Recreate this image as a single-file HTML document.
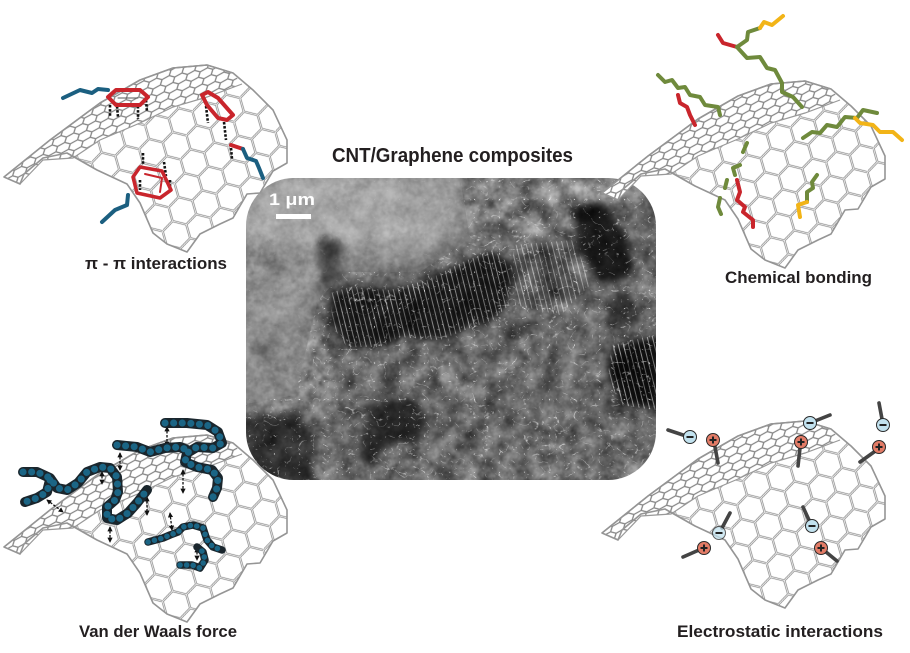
<!DOCTYPE html>
<html>
<head>
<meta charset="utf-8">
<style>
html,body{margin:0;padding:0;background:#fff;overflow:hidden;}
svg{display:block;}
text{font-family:"Liberation Sans",sans-serif;}
</style>
</head>
<body>
<svg width="910" height="653" viewBox="0 0 910 653" xmlns="http://www.w3.org/2000/svg">
<defs>
  <pattern id="hexMain" width="45" height="25.98" patternUnits="userSpaceOnUse" patternTransform="rotate(14) scale(0.95,0.95)">
    <path d="M0,12.99 L7.5,0 H22.5 L30,12.99 L22.5,25.98 H7.5 Z M30,12.99 H45" fill="none" stroke="#888" stroke-width="2.4"/>
    <path d="M0,12.99 L7.5,0 H22.5 L30,12.99 L22.5,25.98 H7.5 Z M30,12.99 H45" fill="none" stroke="#ffffff" stroke-width="0.8"/>
  </pattern>
  <pattern id="hexRidge" width="24.75" height="7.8" patternUnits="userSpaceOnUse" patternTransform="rotate(-29)">
    <path d="M0,3.9 L4.125,0 H12.375 L16.5,3.9 L12.375,7.8 H4.125 Z M16.5,3.9 H24.75" fill="none" stroke="#858585" stroke-width="1.3"/>
  </pattern>
  <pattern id="strands" width="5" height="12" patternUnits="userSpaceOnUse" patternTransform="rotate(-14)">
    <path d="M1.5,0 V12" stroke="#eeeeee" stroke-width="0.8"/>
  </pattern>

  <clipPath id="semclip"><rect x="246" y="178" width="410" height="302" rx="48" ry="48"/></clipPath>
  <clipPath id="bandclip">
    <polygon points="330,293 350,287 390,290 427,280 467,260 493,250 513,267 507,307 493,320 473,327 440,340 400,337 380,347 347,347 333,327"/>
    <polygon points="513,245 575,240 590,285 560,315 515,305"/>
    <polygon points="612,345 656,335 656,410 620,405 608,375"/>
  </clipPath>
  <clipPath id="veinclip">
    <polygon points="460,178 660,178 660,485 240,485 240,405 295,395 318,300 345,272 420,272 470,238"/>
  </clipPath>
  <clipPath id="lightclip">
    <polygon points="240,172 460,172 470,238 420,272 345,272 318,300 295,395 240,405"/>
  </clipPath>

  <filter id="b8" x="-30%" y="-30%" width="160%" height="160%" color-interpolation-filters="sRGB"><feGaussianBlur stdDeviation="8"/></filter>
  <filter id="b4" x="-30%" y="-30%" width="160%" height="160%" color-interpolation-filters="sRGB"><feGaussianBlur stdDeviation="4"/></filter>
  <filter id="mottle" x="246" y="178" width="410" height="302" filterUnits="userSpaceOnUse" color-interpolation-filters="sRGB">
    <feTurbulence type="fractalNoise" baseFrequency="0.05" numOctaves="4" seed="2"/>
    <feColorMatrix type="matrix" values="0.33 0.33 0.33 0 0  0.33 0.33 0.33 0 0  0.33 0.33 0.33 0 0  0 0 0 0 1"/>
    <feComponentTransfer>
      <feFuncR type="linear" slope="1.7" intercept="-0.35"/>
      <feFuncG type="linear" slope="1.7" intercept="-0.35"/>
      <feFuncB type="linear" slope="1.7" intercept="-0.35"/>
    </feComponentTransfer>
  </filter>
  <filter id="grain" x="246" y="178" width="410" height="302" filterUnits="userSpaceOnUse" color-interpolation-filters="sRGB">
    <feTurbulence type="fractalNoise" baseFrequency="0.18" numOctaves="2" seed="9"/>
    <feColorMatrix type="matrix" values="0.33 0.33 0.33 0 0  0.33 0.33 0.33 0 0  0.33 0.33 0.33 0 0  0 0 0 0 1"/>
  </filter>
  <filter id="veins" x="246" y="178" width="410" height="302" filterUnits="userSpaceOnUse">
    <feTurbulence type="turbulence" baseFrequency="0.04 0.055" numOctaves="3" seed="7"/>
    <feColorMatrix type="matrix" values="0 0 0 0 1  0 0 0 0 1  0 0 0 0 1  -9 0 0 0 0.7"/>
  </filter>
  <filter id="veins2" x="246" y="178" width="410" height="302" filterUnits="userSpaceOnUse">
    <feTurbulence type="turbulence" baseFrequency="0.07 0.08" numOctaves="2" seed="21"/>
    <feColorMatrix type="matrix" values="0 0 0 0 1  0 0 0 0 1  0 0 0 0 1  -10 0 0 0 0.6"/>
  </filter>

  <marker id="ah" viewBox="0 0 6 6" refX="5" refY="3" markerWidth="4" markerHeight="4" orient="auto-start-reverse">
    <path d="M0,0 L6,3 L0,6 Z" fill="#111"/>
  </marker>

  <g id="sheet">
    <polygon points="4,177 20,184 24,174 43,158 67,153 97,170 127,184 140,203 153,233 167,244 187,252 200,234 220,224 233,218 247,194 260,193 273,171 287,163 287,140 273,110 253,90 233,73 207,65 173,68 140,80 100,103 50,140" fill="url(#hexMain)"/>
    <polygon points="4,177 50,140 100,103 140,80 173,68 207,65 233,73 242,84 207,97 173,107 140,123 100,140 73,158 43,160 20,184" fill="#fff"/>
    <polygon points="4,177 50,140 100,103 140,80 173,68 207,65 233,73 242,84 207,97 173,107 140,123 100,140 73,158 43,160 20,184" fill="url(#hexRidge)"/>
    <polyline points="4,177 50,140 100,103 140,80 173,68 207,65 233,73" fill="none" stroke="#888" stroke-width="1.4"/>
    <polyline points="20,184 43,160 73,158 100,140 140,123 173,107 207,97 242,84" fill="none" stroke="#999" stroke-width="1.2"/>
    <polygon points="4,177 20,184 24,174 43,158 67,153 97,170 127,184 140,203 153,233 167,244 187,252 200,234 220,224 233,218 247,194 260,193 273,171 287,163 287,140 273,110 253,90 233,73 207,65 173,68 140,80 100,103 50,140" fill="none" stroke="#959595" stroke-width="1.6" stroke-linejoin="round"/>
  </g>
</defs>

<rect x="0" y="0" width="910" height="653" fill="#fff"/>

<!-- SEM image -->
<g clip-path="url(#semclip)">
  <rect x="246" y="178" width="410" height="302" fill="#6a6a6a"/>
  <g filter="url(#b8)">
    <polygon points="236,168 470,168 505,198 462,235 420,266 345,260 318,292 300,330 292,420 236,430" fill="#9a9a9a"/>
    <ellipse cx="340" cy="212" rx="100" ry="40" fill="#a6a6a6"/>
    <ellipse cx="275" cy="300" rx="30" ry="60" fill="#929292"/>
    <ellipse cx="282" cy="262" rx="42" ry="9" fill="#7a7a7a"/>
    <polygon points="453,178 573,178 573,223 520,240 460,235" fill="#7e7e7e"/>
    <polygon points="573,178 660,178 660,210 573,207" fill="#848484"/>
    <polygon points="246,330 320,330 330,410 246,410" fill="#858585"/>
  </g>
  <g filter="url(#b4)">
    <polygon points="317,237 340,240 342,282 320,285" fill="#484848"/>
    <polygon points="330,293 350,287 390,290 427,280 467,260 493,250 513,267 507,307 493,320 473,327 440,340 400,337 380,347 347,347 333,327" fill="#161616"/>
    <polygon points="573,207 605,205 625,230 635,275 600,285 585,260 575,235" fill="#181818"/>
    <polygon points="612,345 660,335 660,410 620,405 608,375" fill="#0c0c0c"/>
    <polygon points="240,415 300,412 315,440 310,485 240,485" fill="#303030"/>
    <polygon points="367,405 410,398 428,415 420,440 385,445 372,470 360,455" fill="#262626"/>
    <polygon points="600,300 630,290 640,320 615,330" fill="#353535"/>
    <polygon points="513,250 570,245 580,300 520,310" fill="#4c4c4c"/>
  </g>
  <rect x="246" y="178" width="410" height="302" fill="url(#strands)" clip-path="url(#bandclip)" opacity="0.55"/>
  <rect x="246" y="178" width="410" height="302" filter="url(#mottle)" clip-path="url(#veinclip)" style="mix-blend-mode:overlay" opacity="0.7"/>
  <rect x="246" y="178" width="410" height="302" filter="url(#mottle)" clip-path="url(#lightclip)" style="mix-blend-mode:overlay" opacity="0.3"/>
  <rect x="246" y="178" width="410" height="302" filter="url(#grain)" style="mix-blend-mode:overlay" opacity="0.3"/>
  <rect x="246" y="178" width="410" height="302" filter="url(#veins)" opacity="0.15"/>
  <rect x="246" y="178" width="410" height="302" filter="url(#veins)" clip-path="url(#veinclip)" opacity="0.9"/>
  <rect x="246" y="178" width="410" height="302" filter="url(#veins2)" clip-path="url(#veinclip)" opacity="0.65"/>
  <!-- scale bar -->
  <rect x="276" y="214" width="35" height="5" fill="#fff"/>
  <text x="269" y="205" font-size="17" font-weight="bold" fill="#fff" textLength="46" lengthAdjust="spacingAndGlyphs">1 μm</text>
</g>

<!-- Sheets -->
<use href="#sheet"/>
<use href="#sheet" transform="translate(598,16)"/>
<use href="#sheet" transform="translate(0,370)"/>
<use href="#sheet" transform="translate(598,356)"/>

<!-- Panel 1: pi-pi -->
<g fill="none" stroke-linecap="round" stroke-linejoin="round">
  <g stroke="#111" stroke-width="2.6" stroke-dasharray="2.5,1.6" stroke-linecap="butt">
    <line x1="110" y1="105" x2="110" y2="116"/>
    <line x1="117" y1="106" x2="118" y2="117"/>
    <line x1="138" y1="106" x2="138" y2="119"/>
    <line x1="146" y1="100" x2="147" y2="112"/>
    <line x1="206" y1="106" x2="208" y2="123"/>
    <line x1="224" y1="122" x2="226" y2="140"/>
    <line x1="231" y1="148" x2="232" y2="159"/>
    <line x1="143" y1="153" x2="143" y2="165"/>
    <line x1="164" y1="162" x2="166" y2="176"/>
    <line x1="170" y1="180" x2="170" y2="192"/>
    <line x1="140" y1="180" x2="140" y2="190"/>
  </g>
  <polyline points="63,98 80,90 92,93 98,89 108,90" stroke="#1b5f80" stroke-width="4"/>
  <polygon points="108,97 116,90 140,90 148,97 140,105 116,105" stroke="#c9252c" stroke-width="4"/>
  <line x1="118" y1="98" x2="138" y2="98" stroke="#555" stroke-width="1"/>
  <polygon points="202,95 208,92 218,98 233,115 227,120 218,118 207,105" stroke="#c9252c" stroke-width="4"/>
  <polyline points="231,145 243,149" stroke="#c9252c" stroke-width="4"/>
  <polyline points="243,149 247,158 256,161 259,168 263,178" stroke="#1b5f80" stroke-width="4"/>
  <polygon points="140,167 162,171 171,190 160,198 137,193 133,177" stroke="#c9252c" stroke-width="3.6"/>
  <polyline points="145,174 162,178 160,192" stroke="#c9252c" stroke-width="2"/>
  <polyline points="128,195 127,205 115,210 102,222" stroke="#1b5f80" stroke-width="4"/>
</g>

<!-- Panel 2: chemical bonding -->
<g fill="none" stroke-width="4" stroke-linecap="round" stroke-linejoin="round">
  <polyline points="718,35 723,43 737,47" stroke="#c9252c"/>
  <polyline points="737,47 747,40 748,32 760,28" stroke="#6f8a3c"/>
  <polyline points="760,28 764,22 772,25 783,16" stroke="#f2b417"/>
  <polyline points="737,47 747,58 760,57 767,68 775,70 782,83 782,92 793,97 802,107" stroke="#6f8a3c"/>
  <polyline points="658,75 665,82 672,80 678,88 685,87 690,95 700,97 705,105 718,107 720,115" stroke="#6f8a3c"/>
  <polyline points="678,95 680,103 687,107 690,115 695,125" stroke="#c9252c"/>
  <polyline points="803,138 812,132 820,133 827,125 837,127 845,117 857,118 863,110 877,113" stroke="#6f8a3c"/>
  <polyline points="855,118 860,123 873,125 880,132 893,132 902,140" stroke="#f2b417"/>
  <polyline points="747,143 743,152" stroke="#6f8a3c"/>
  <polyline points="740,165 733,168 735,175" stroke="#6f8a3c"/>
  <polyline points="727,180 725,188" stroke="#6f8a3c"/>
  <polyline points="720,198 718,207 721,214" stroke="#6f8a3c"/>
  <polyline points="737,180 740,192 737,200 745,207 743,212 753,220 753,227" stroke="#c9252c"/>
  <polyline points="817,175 812,182 813,188 807,192 807,202" stroke="#6f8a3c"/>
  <polyline points="807,202 798,205 800,217" stroke="#f2b417"/>
</g>

<!-- Panel 3: van der Waals -->
<g fill="none" stroke="#111" stroke-width="1.3" stroke-dasharray="2.5,1.5" marker-start="url(#ah)" marker-end="url(#ah)">
  <line x1="167" y1="427" x2="167" y2="446"/>
  <line x1="120" y1="453" x2="120" y2="470"/>
  <line x1="102" y1="472" x2="102" y2="484"/>
  <line x1="110" y1="527" x2="110" y2="542"/>
  <line x1="147" y1="497" x2="147" y2="515"/>
  <line x1="183" y1="470" x2="183" y2="493"/>
  <line x1="47" y1="500" x2="63" y2="512"/>
  <line x1="170" y1="513" x2="172" y2="530"/>
  <line x1="197" y1="548" x2="197" y2="560"/>
</g>
<g fill="none" stroke-linecap="round" stroke-linejoin="round">
  <g stroke="#1a262d" stroke-width="10">
    <polyline points="165,423 187,423 207,425 218,432 222,443 213,448 197,447 187,453 185,462 197,467 212,470 218,478 217,488 213,497"/>
    <polyline points="117,445 137,447 150,452 165,448 180,447 187,450"/>
    <polyline points="23,472 37,472 50,478 57,488 67,490 78,483 87,472 100,467 110,468 117,477 118,492 115,500 107,507 107,518 117,520 128,513 137,503 147,490"/>
    <polyline points="50,480 47,492 37,498 25,502"/>
  </g>
  <g stroke="#1b6585" stroke-width="7" stroke-dasharray="0.1,8.5">
    <polyline points="165,423 187,423 207,425 218,432 222,443 213,448 197,447 187,453 185,462 197,467 212,470 218,478 217,488 213,497"/>
    <polyline points="117,445 137,447 150,452 165,448 180,447 187,450"/>
    <polyline points="23,472 37,472 50,478 57,488 67,490 78,483 87,472 100,467 110,468 117,477 118,492 115,500 107,507 107,518 117,520 128,513 137,503 147,490"/>
    <polyline points="50,480 47,492 37,498 25,502"/>
  </g>
  <g stroke="#1a262d" stroke-width="7.5">
    <polyline points="148,542 163,538 170,535 178,532 183,527 193,525 203,528 207,540 213,547 222,550"/>
    <polyline points="180,565 192,565 200,568 205,560 203,552 197,547"/>
  </g>
  <g stroke="#1b6585" stroke-width="5.5" stroke-dasharray="0.1,6.5">
    <polyline points="148,542 163,538 170,535 178,532 183,527 193,525 203,528 207,540 213,547 222,550"/>
    <polyline points="180,565 192,565 200,568 205,560 203,552 197,547"/>
  </g>
</g>

<!-- Panel 4: electrostatic -->
<g stroke-linecap="round">
  <g stroke="#444" stroke-width="3.6">
    <line x1="668" y1="430" x2="686" y2="436"/>
    <line x1="715" y1="447" x2="718" y2="463"/>
    <line x1="815" y1="421" x2="830" y2="415"/>
    <line x1="800" y1="448" x2="798" y2="466"/>
    <line x1="879" y1="403" x2="882" y2="419"/>
    <line x1="874" y1="452" x2="860" y2="462"/>
    <line x1="730" y1="513" x2="722" y2="528"/>
    <line x1="683" y1="557" x2="699" y2="550"/>
    <line x1="803" y1="507" x2="809" y2="520"/>
    <line x1="826" y1="552" x2="837" y2="561"/>
  </g>
  <g stroke="#2a2a2a" stroke-width="1">
    <circle cx="690" cy="437" r="6.5" fill="#c2e2ef"/>
    <circle cx="810" cy="423" r="6.5" fill="#c2e2ef"/>
    <circle cx="883" cy="425" r="6.5" fill="#c2e2ef"/>
    <circle cx="719" cy="533" r="6.5" fill="#c2e2ef" opacity="0.75"/>
    <circle cx="812" cy="526" r="6.5" fill="#c2e2ef"/>
    <circle cx="713" cy="440" r="6.5" fill="#e27b66"/>
    <circle cx="801" cy="442" r="6.5" fill="#e27b66"/>
    <circle cx="879" cy="447" r="6.5" fill="#e27b66"/>
    <circle cx="704" cy="548" r="6.5" fill="#e27b66"/>
    <circle cx="821" cy="548" r="6.5" fill="#e27b66"/>
  </g>
  <g stroke="#222" stroke-width="2" stroke-linecap="butt">
    <line x1="686.5" y1="437" x2="693.5" y2="437"/>
    <line x1="806.5" y1="423" x2="813.5" y2="423"/>
    <line x1="879.5" y1="425" x2="886.5" y2="425"/>
    <line x1="715.5" y1="533" x2="722.5" y2="533"/>
    <line x1="808.5" y1="526" x2="815.5" y2="526"/>
    <path d="M709.5,440 H716.5 M713,436.5 V443.5"/>
    <path d="M797.5,442 H804.5 M801,438.5 V445.5"/>
    <path d="M875.5,447 H882.5 M879,443.5 V450.5"/>
    <path d="M700.5,548 H707.5 M704,544.5 V551.5"/>
    <path d="M817.5,548 H824.5 M821,544.5 V551.5"/>
  </g>
</g>

<!-- Labels -->
<g fill="#231f20" font-weight="bold">
  <text x="332" y="162" font-size="20" textLength="241" lengthAdjust="spacingAndGlyphs">CNT/Graphene composites</text>
  <text x="85" y="269" font-size="17" textLength="142" lengthAdjust="spacingAndGlyphs">π - π interactions</text>
  <text x="725" y="283" font-size="17" textLength="147" lengthAdjust="spacingAndGlyphs">Chemical bonding</text>
  <text x="79" y="637" font-size="17" textLength="158" lengthAdjust="spacingAndGlyphs">Van der Waals force</text>
  <text x="677" y="637" font-size="17" textLength="206" lengthAdjust="spacingAndGlyphs">Electrostatic interactions</text>
</g>
</svg>
</body>
</html>
